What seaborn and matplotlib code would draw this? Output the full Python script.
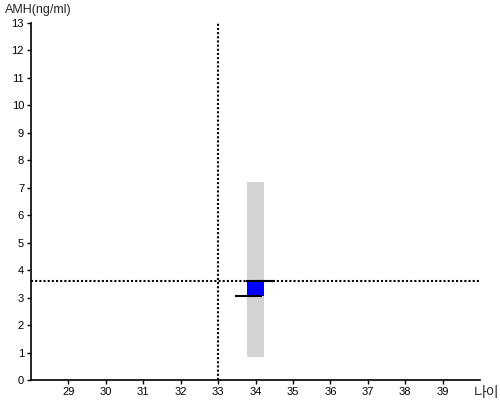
import matplotlib
matplotlib.use("Agg")
import matplotlib.pyplot as plt
import seaborn as sns
import pandas as pd

# data
age_center = [34]
range_low = [0.84]
range_high = [7.2]
box_low = [3.07]
box_high = [3.62]
ref_age = 33
ref_amh = 3.62
x_ticks = list(range(29, 40))
y_ticks = list(range(0, 14))

sns.set_style("ticks")
plt.rcParams['font.family'] = ['Liberation Sans', 'Noto Sans CJK KR', 'DejaVu Sans']

fig = plt.figure(figsize=(5, 4), dpi=100)
ax = fig.add_axes([0.062, 0.05, 0.898, 0.893])

df = pd.DataFrame({"age": age_center, "low": range_low, "high": range_high,
                   "blow": box_low, "bhigh": box_high})

w = 0.44
# gray range bar
ax.bar(df["age"], df["high"] - df["low"], bottom=df["low"], width=w,
       color="#d3d3d3", linewidth=0, zorder=1)
# blue box
ax.bar(df["age"], df["bhigh"] - df["blow"], bottom=df["blow"], width=w,
       color="#0000ff", linewidth=0, zorder=2)
# lines
ax.hlines(df["bhigh"], df["age"] - 0.26, df["age"] + 0.52, color="black", lw=1.5, zorder=3)
ax.hlines(df["blow"], df["age"] - 0.55, df["age"] + 0.18, color="black", lw=1.5, zorder=3)

ax.axhline(ref_amh, color="black", lw=1.5, linestyle=(0, (1, 1)), zorder=4)
ax.axvline(ref_age, color="black", lw=1.5, linestyle=(0, (1, 1)), zorder=4)

ax.set_xlim(28, 40)
ax.set_ylim(0, 13)
ax.set_xticks(x_ticks)
ax.set_yticks(y_ticks)
ax.tick_params(axis="both", labelsize=8, length=3, width=1, color="black", labelcolor="black", pad=2)
for s in ["left", "bottom"]:
    ax.spines[s].set_linewidth(1.2)
    ax.spines[s].set_color("black")
sns.despine(ax=ax)
ax.grid(False)

fig.text(0.01, 0.975, "AMH(ng/ml)", fontsize=9, ha="left", va="center")
fig.text(0.948, 0.018, "나이", fontsize=10, ha="left", va="center",
         family=['Noto Sans CJK KR', 'DejaVu Sans'])

fig.savefig("out.png", dpi=100)
